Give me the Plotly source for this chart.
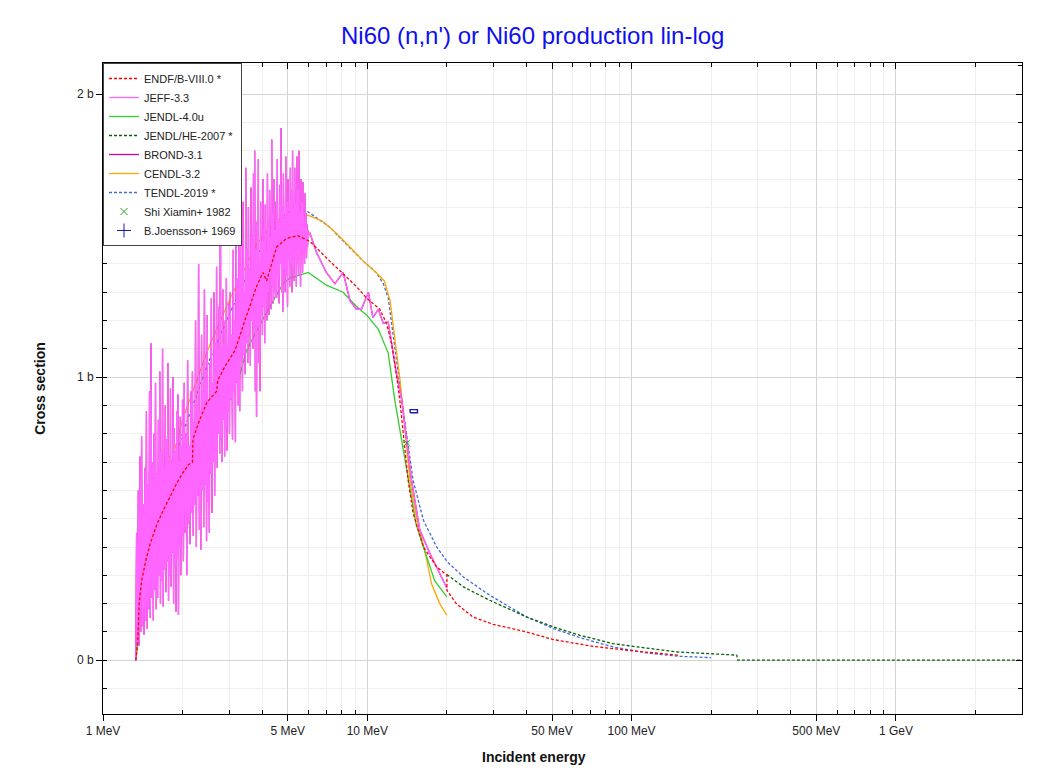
import plotly.graph_objects as go

# ---------------- data (MeV, barn) ----------------
endf_e = [1.33, 1.35, 1.37, 1.40, 1.45, 1.506, 1.6, 1.69, 1.8, 1.90, 2.0, 2.10, 2.18, 2.19, 2.3, 2.47, 2.69, 2.72,
          2.9, 3.16, 3.44, 3.81, 4.03, 4.16, 4.54, 4.95, 5.46, 6.06, 7.21, 9.10, 9.93, 11.15, 11.82, 12.35, 12.89,
          13.27, 14.27, 14.9, 16.3, 18.3, 20.0, 20.01, 21.7, 25.1, 29.9, 40.0, 50.5, 71.4, 101.0, 150.0]
endf_y = [0.0, 0.05, 0.2, 0.28, 0.35, 0.41, 0.48, 0.53, 0.58, 0.625, 0.66, 0.69, 0.70, 0.78, 0.84, 0.91, 0.95, 0.99,
          1.04, 1.095, 1.20, 1.32, 1.37, 1.34, 1.46, 1.49, 1.50, 1.48, 1.41, 1.32, 1.28, 1.24, 1.19, 1.12, 1.01,
          0.92, 0.636, 0.52, 0.40, 0.33, 0.30, 0.247, 0.20, 0.153, 0.127, 0.10, 0.073, 0.049, 0.033, 0.018]

jeff_e = [
    1.33, 1.34, 1.35, 1.36, 1.37, 1.38, 1.39, 1.40, 1.41, 1.42, 1.43, 1.44, 1.45, 1.46, 1.47, 1.48, 1.49,
    1.50, 1.51, 1.52, 1.53, 1.54, 1.55, 1.56, 1.57, 1.58, 1.59, 1.60, 1.61, 1.62, 1.63, 1.64, 1.65, 1.66,
    1.67, 1.68, 1.69, 1.70, 1.71, 1.72, 1.73, 1.74, 1.75, 1.76, 1.77, 1.78, 1.79, 1.80, 1.81, 1.82, 1.83,
    1.84, 1.85, 1.86, 1.87, 1.88, 1.89, 1.90, 1.91, 1.92, 1.93, 1.94, 1.95, 1.96, 1.97, 1.98, 1.99, 2.00,
    2.015, 2.03, 2.045, 2.06, 2.075, 2.09, 2.105, 2.12, 2.135, 2.15, 2.165, 2.18, 2.195, 2.21, 2.225, 2.24,
    2.255, 2.27, 2.285, 2.30, 2.315, 2.33, 2.345, 2.36, 2.375, 2.39, 2.405, 2.42, 2.435, 2.45, 2.465, 2.48,
    2.495, 2.51, 2.525, 2.54, 2.555, 2.57, 2.585, 2.60, 2.615, 2.63, 2.645, 2.66, 2.675, 2.69, 2.705, 2.72,
    2.735, 2.75, 2.765, 2.78, 2.795, 2.81, 2.825, 2.84, 2.855, 2.87, 2.885, 2.90, 2.915, 2.93, 2.945, 2.96,
    2.975, 2.99,
    3.01, 3.03, 3.05, 3.07, 3.09, 3.11, 3.13, 3.15, 3.17, 3.19, 3.21, 3.23, 3.25, 3.27, 3.29, 3.31, 3.33,
    3.35, 3.37, 3.39, 3.41, 3.43, 3.45, 3.47, 3.49, 3.51, 3.53, 3.55, 3.57, 3.59, 3.61, 3.63, 3.65, 3.67,
    3.69, 3.71, 3.73, 3.75, 3.77, 3.79, 3.81, 3.83, 3.85, 3.87, 3.89, 3.91, 3.93, 3.95, 3.97, 3.99, 4.01,
    4.03, 4.05, 4.07, 4.09, 4.11, 4.13, 4.15, 4.17, 4.19, 4.21, 4.23, 4.25, 4.27, 4.29, 4.31, 4.33, 4.35,
    4.37, 4.39, 4.41, 4.43, 4.45, 4.47, 4.49,
    4.515, 4.54, 4.565, 4.59, 4.615, 4.64, 4.665, 4.69, 4.715, 4.74, 4.765, 4.79, 4.815, 4.84, 4.865, 4.89,
    4.915, 4.94, 4.965, 4.99, 5.015, 5.04, 5.065, 5.09, 5.115, 5.14, 5.165, 5.19, 5.215, 5.24, 5.265, 5.29,
    5.315, 5.34, 5.365, 5.39, 5.415, 5.44, 5.465, 5.49, 5.515, 5.54, 5.565, 5.59, 5.615, 5.64, 5.665, 5.69,
    5.715, 5.74, 5.765, 5.79, 5.815, 5.84, 5.865, 5.89, 5.915, 5.94, 5.965, 5.99,
    6.06, 6.43, 7.0, 7.54, 8.1, 8.6, 9.1, 9.5, 10.1, 10.5, 11.0, 11.5, 12.0, 12.3, 12.9, 13.5, 14.7, 15.8,
    17.2, 20.0]
jeff_y = [
    0.00, 0.45, 0.06, 0.60, 0.05, 0.72, 0.10, 0.79, 0.12, 0.55, 0.09, 0.68, 0.14, 0.88, 0.11, 0.62, 0.18,
    0.95, 0.15, 1.12, 0.22, 0.70, 0.14, 0.80, 0.25, 0.98, 0.18, 0.66, 0.22, 0.85, 0.30, 1.02, 0.20, 0.74,
    0.28, 1.10, 0.19, 0.68, 0.32, 0.90, 0.24, 0.78, 0.35, 1.05, 0.21, 0.72, 0.30, 0.96, 0.26, 0.70, 0.38,
    1.00, 0.20, 0.82, 0.33, 0.74, 0.17, 0.88, 0.36, 0.94, 0.16, 0.70, 0.40, 0.86, 0.30, 0.76, 0.44, 0.92,
    0.35, 0.98, 0.45, 0.80, 0.30, 1.06, 0.48, 0.76, 0.41, 0.95, 0.52, 1.02, 0.44, 0.84, 0.55, 1.20,
    0.40, 0.90, 0.58, 1.40, 0.46, 0.88, 0.39, 1.15, 0.60, 0.95, 0.47, 1.31, 0.62, 1.00, 0.42, 1.22,
    0.56, 0.92, 0.45, 1.05, 0.66, 1.28, 0.52, 0.98, 0.70, 1.30, 0.58, 1.12, 0.74, 1.39, 0.68, 1.10,
    0.80, 1.25, 0.73, 1.80, 0.78, 1.05, 0.70, 1.31, 0.85, 1.12, 0.72, 1.20, 0.82, 1.35, 0.74, 1.10,
    0.88, 1.26,
    0.80, 1.30, 0.92, 1.15, 0.78, 1.45, 0.95, 1.20, 0.77, 1.60, 0.98, 1.35, 0.90, 1.50, 0.88, 1.86, 1.05,
    1.40, 0.95, 1.62, 1.08, 1.30, 1.01, 1.74, 1.12, 1.45, 1.05, 1.60, 1.15, 1.38, 1.04, 1.67, 1.20, 1.50,
    1.10, 1.72, 1.18, 1.80, 0.95, 1.45, 0.86, 1.55, 1.18, 1.77, 1.05, 1.40, 0.95, 1.62, 1.22, 1.48, 1.15,
    1.70, 1.25, 1.52, 1.12, 1.61, 1.28, 1.45, 1.20, 1.72, 1.30, 1.55, 1.22, 1.66, 1.35, 1.50, 1.24, 1.84,
    1.32, 1.58, 1.26, 1.70, 1.30, 1.52, 1.28,
    1.62, 1.28, 1.77, 1.35, 1.55, 1.26, 1.68, 1.40, 1.88, 1.30, 1.60, 1.23, 1.72, 1.38, 1.55, 1.30,
    1.78, 1.36, 1.62, 1.25, 1.70, 1.42, 1.58, 1.32, 1.74, 1.40, 1.66, 1.30, 1.80, 1.38, 1.60, 1.34,
    1.74, 1.45, 1.62, 1.32, 1.78, 1.40, 1.66, 1.36, 1.80, 1.42, 1.58, 1.32, 1.70, 1.45, 1.62, 1.37,
    1.69, 1.44, 1.55, 1.40, 1.65, 1.45, 1.58, 1.42, 1.54, 1.46, 1.52, 1.50,
    1.51, 1.44, 1.37, 1.33, 1.37, 1.27, 1.24, 1.24, 1.30, 1.21, 1.24, 1.19, 1.195, 1.13, 1.01, 0.92, 0.636,
    0.46, 0.38, 0.255]

jendl4_e = [1.33, 1.4, 1.48, 2.0, 2.5, 3.0, 3.3, 3.49, 4.0, 4.47, 4.8, 5.1, 5.98, 7.0, 8.1, 9.1, 9.93, 11.0, 12.0,
            12.7, 14.3, 15.3, 16.3, 18.0, 20.0]
jendl4_y = [0.0, 0.2, 0.29, 0.6, 0.8, 0.95, 1.01, 1.095, 1.2, 1.28, 1.33, 1.35, 1.37, 1.325, 1.30, 1.25, 1.22, 1.17,
            1.085, 0.92, 0.636, 0.48, 0.40, 0.28, 0.224]

jendlhe_e = [20.0, 23.1, 29.0, 40.0, 50.5, 63.7, 84.9, 101.0, 150.0, 250.0, 252.0, 3000.0]
jendlhe_y = [0.303, 0.259, 0.212, 0.153, 0.118, 0.088, 0.059, 0.049, 0.029, 0.018, 0.0, 0.0]

brond_e = jeff_e
brond_y = jeff_y

cendl_e = [1.33, 1.5, 2.0, 2.5, 3.0, 3.5, 3.81, 4.5, 5.0, 5.46, 6.06, 6.8, 7.6, 8.6, 9.65, 10.8, 11.6, 12.2, 12.7,
           13.3, 14.5, 15.3, 16.7, 17.5, 18.8, 20.0]
cendl_y = [0.0, 0.4, 0.85, 1.1, 1.27, 1.4, 1.47, 1.55, 1.58, 1.58, 1.57, 1.55, 1.51, 1.46, 1.41, 1.37, 1.34, 1.27,
           1.13, 0.99, 0.636, 0.51, 0.365, 0.27, 0.20, 0.159]

tendl_e = [1.33, 1.4, 1.5, 1.7, 2.0, 2.5, 3.0, 3.5, 4.0, 4.5, 5.0, 5.55, 6.06, 7.21, 8.33, 9.65, 10.8, 11.5, 12.0,
           12.5, 13.06, 13.5, 14.9, 16.3, 18.3, 20.1, 23.1, 29.0, 40.0, 50.5, 63.7, 84.9, 114.0, 150.0, 200.0]
tendl_y = [0.0, 0.25, 0.42, 0.6, 0.8, 1.05, 1.22, 1.36, 1.46, 1.53, 1.58, 1.60, 1.58, 1.53, 1.47, 1.41, 1.37, 1.33,
           1.28, 1.155, 1.01, 0.92, 0.636, 0.495, 0.40, 0.347, 0.294, 0.23, 0.153, 0.112, 0.08, 0.047, 0.026,
           0.014, 0.009]

shi_e = [14.1]
shi_y = [0.767]
joe_e = [15.0]
joe_y = [0.88]
joe_dx = [0.48]     # energy uncertainty (MeV)
joe_dy = [0.0055]   # cross-section uncertainty (b)

x_range_log = [0, 3.4771]
y_range = [-0.19, 2.11]
x_tickvals = [1, 5, 10, 50, 100, 500, 1000]
x_ticktext = ["1 MeV", "5 MeV", "10 MeV", "50 MeV", "100 MeV", "500 MeV", "1 GeV"]
x_minor = [2, 3, 4, 6, 7, 8, 9, 20, 30, 40, 60, 70, 80, 90, 200, 300, 400, 600, 700, 800, 900, 2000, 3000]
y_tickvals = [0, 1, 2]
y_ticktext = ["0 b", "1 b", "2 b"]

# ---------------- figure ----------------
fig = go.Figure()

def line(e, y, name, color, dash, rank, width=1.3):
    fig.add_trace(go.Scatter(x=e, y=y, mode="lines", name=name, legendrank=rank,
                             line=dict(color=color, width=width, dash=dash)))

line(tendl_e, tendl_y, "TENDL-2019 *", "#4169e1", "3px,2px", 7)
line(cendl_e, cendl_y, "CENDL-3.2", "#ffa500", "solid", 6)
line(jendl4_e, jendl4_y, "JENDL-4.0u", "#33cc33", "solid", 3)
line(jendlhe_e, jendlhe_y, "JENDL/HE-2007 *", "#006400", "3px,2px", 4)
line(brond_e, brond_y, "BROND-3.1", "#cc0099", "solid", 5)
line(jeff_e, jeff_y, "JEFF-3.3", "#ff66ff", "solid", 2, 1.3)
line(endf_e, endf_y, "ENDF/B-VIII.0 *", "#ff0000", "3px,2px", 1)

# Shi Xiamin on the mirrored (top/right) axes, which share the same ranges
fig.add_trace(go.Scatter(x=shi_e, y=shi_y, mode="markers", name="Shi Xiamin+ 1982", legendrank=8,
                         xaxis="x2", yaxis="y2",
                         marker=dict(symbol="x-thin-open", size=7, color="#22aa22",
                                     line=dict(color="#22aa22", width=1))))

# B.Joensson: error box built from the data point and its uncertainties
e0, y0, dx, dy = joe_e[0], joe_y[0], joe_dx[0], joe_dy[0]
box_x = [e0 - dx, e0 + dx, e0 + dx, e0 - dx, e0 - dx]
box_y = [y0 - dy, y0 - dy, y0 + dy, y0 + dy, y0 - dy]
fig.add_trace(go.Scatter(x=box_x, y=box_y, mode="lines", showlegend=False, hoverinfo="skip",
                         line=dict(color="#1a1aa6", width=1.4)))
fig.add_trace(go.Scatter(x=[None], y=[None], mode="markers", name="B.Joensson+ 1969", legendrank=9,
                         marker=dict(symbol="cross-thin-open", size=10, color="#1a1aa6",
                                     line=dict(color="#1a1aa6", width=1))))

font_family = "Liberation Sans, Arial, sans-serif"

fig.update_layout(
    width=1033, height=758,
    margin=dict(l=95, r=19, t=55, b=52, autoexpand=False),
    paper_bgcolor="white", plot_bgcolor="white",
    font=dict(family=font_family, size=12, color="#222"),
    title=dict(text="Ni60 (n,n') or Ni60 production lin-log", x=0.508, xanchor="center",
               y=0.964, yanchor="middle", font=dict(size=24, color="#1010ee", family=font_family)),
    showlegend=True,
    legend=dict(x=0, y=1, xanchor="left", yanchor="top", bgcolor="white", bordercolor="#444",
                borderwidth=1, font=dict(size=11, color="#222"), tracegroupgap=0, itemwidth=30),
    annotations=[dict(text="<b>Incident energy</b>", xref="paper", yref="paper", x=0.469, y=0,
                      xanchor="center", yanchor="middle", yshift=-43, showarrow=False,
                      font=dict(size=14, color="#111", family=font_family))],
    xaxis2=dict(type="log", range=x_range_log, overlaying="x", side="top", automargin=False,
                tickmode="array", tickvals=x_tickvals, ticks="inside", ticklen=6, tickcolor="#000",
                showticklabels=False, showgrid=False, showline=False, zeroline=False,
                minor=dict(tickvals=x_minor, ticks="inside", ticklen=4, tickcolor="#000", showgrid=False)),
    yaxis2=dict(range=y_range, overlaying="y", side="right", automargin=False,
                tickmode="array", tickvals=y_tickvals, ticks="inside", ticklen=6, tickcolor="#000",
                showticklabels=False, showgrid=False, showline=False, zeroline=False,
                minor=dict(dtick=0.1, ticks="inside", ticklen=4, tickcolor="#000", showgrid=False)),
)

fig.update_layout(xaxis=dict(
    type="log", range=x_range_log, automargin=False,
    tickmode="array", tickvals=x_tickvals, ticktext=x_ticktext,
    ticks="outside", ticklen=6, tickcolor="#000",
    showline=True, linecolor="#000", linewidth=1, mirror=True,
    showgrid=True, gridcolor="#d4d4d4", gridwidth=1,
    zeroline=False,
    tickfont=dict(size=12, color="#222"),
    minor=dict(tickvals=x_minor, ticks="inside", ticklen=4, tickcolor="#000",
               showgrid=True, gridcolor="#efefef", gridwidth=1),
))
fig.update_layout(yaxis=dict(
    range=y_range, automargin=False,
    tickmode="array", tickvals=y_tickvals, ticktext=y_ticktext,
    ticks="outside", ticklen=6, tickcolor="#000",
    showline=True, linecolor="#000", linewidth=1, mirror=True,
    showgrid=True, gridcolor="#d4d4d4", gridwidth=1,
    zeroline=False,
    tickfont=dict(size=12, color="#222"),
    minor=dict(dtick=0.1, ticks="inside", ticklen=4, tickcolor="#000",
               showgrid=True, gridcolor="#efefef", gridwidth=1),
    title=dict(text="<b>Cross section</b>", font=dict(size=14, color="#111"), standoff=28),
))

fig.write_html("out.html")
